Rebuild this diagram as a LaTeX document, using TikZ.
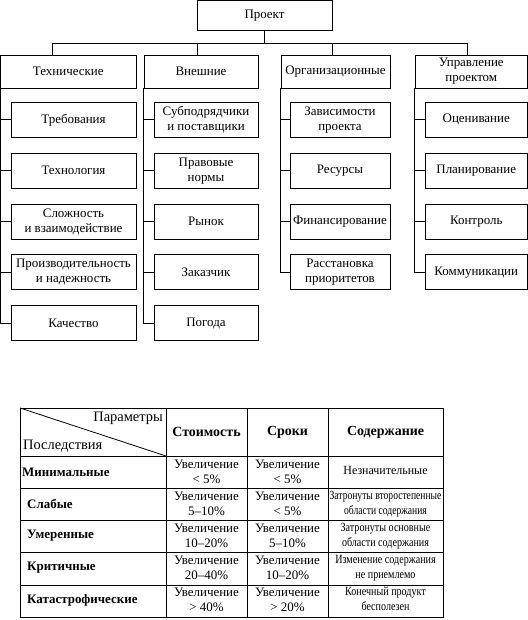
\documentclass[tikz,border=0pt]{standalone}
\usepackage{fontspec}
\setmainfont{Liberation Serif}
\usepackage{graphicx}
\usetikzlibrary{positioning}

% узкий текст в столбце "Содержание"
\newcommand{\narrowtxt}[2]{\scalebox{#1}[1]{\begin{tabular}{@{}c@{}}#2\end{tabular}}}

\tikzset{
  blk/.style={draw, line width=0.8bp, align=center, inner sep=1bp,
    font=\fontsize{13}{15}\selectfont},
  grp/.style={blk, minimum height=33bp},
  kid/.style={blk, minimum height=35bp, anchor=north},
  tk/.style={kid, minimum width=125bp},
  ek/.style={kid, minimum width=104bp},
  ok/.style={kid, minimum width=100bp},
  mk/.style={kid, minimum width=102.5bp},
  link/.style={line width=0.8bp},
  tbl/.style={line width=0.8bp},
  cell/.style={align=center, inner sep=0pt, font=\fontsize{13}{15}\selectfont},
  wide/.style={inner sep=0pt, font=\fontsize{12.5}{15}\selectfont},
  hdr/.style={cell, font=\fontsize{14}{15}\selectfont\bfseries},
  corner/.style={inner sep=0pt, font=\fontsize{14.5}{15}\selectfont},
  rowlbl/.style={anchor=west, inner sep=0pt, font=\fontsize{13}{15}\selectfont\bfseries}
}

\begin{document}
\begin{tikzpicture}[x=1bp, y=-1bp, node distance=15bp]
  \useasboundingbox (0,0) rectangle (528,620);

  % корень
  \node[blk, minimum width=135bp, minimum height=30bp] (proj) at (264.5,15.5) {Проект};

  % группы рисков
  \node[grp, minimum width=135.5bp] (tech) at (68.25,71.5) {Технические};
  \node[grp, minimum width=114bp] (ext) at (201,71.5) {Внешние};
  \node[grp, minimum width=109bp] (org) at (335.5,71.5) {Организационные};
  \node[grp, minimum width=112.5bp] (mgmt) at (471.25,71.5) {Управление\\проектом};

  % шина
  \coordinate (b1) at (52,43);
  \coordinate (b2) at (197,43);
  \coordinate (b3) at (332,43);
  \coordinate (b4) at (467,43);
  \draw[link] (proj.south) -- (proj.south |- b1);
  \draw[link] (b1) -- (b4);
  \foreach \b/\g in {b1/tech, b2/ext, b3/org, b4/mgmt}
    \draw[link] (\b) -- (\b |- \g.north);

  % технические
  \node[tk] (t1) at (73.5,102) {Требования};
  \node[tk, below=of t1] (t2) {Технология};
  \node[tk, below=of t2] (t3) {Сложность\\и взаимодействие};
  \node[tk, below=of t3] (t4) {Производительность\\и надежность};
  \node[tk, below=of t4] (t5) {Качество};

  % внешние
  \node[ek] (e1) at (206,102) {Субподрядчики\\и поставщики};
  \node[ek, below=of e1] (e2) {Правовые\\нормы};
  \node[ek, below=of e2] (e3) {Рынок};
  \node[ek, below=of e3] (e4) {Заказчик};
  \node[ek, below=of e4] (e5) {Погода};

  % организационные
  \node[ok] (o1) at (340,102) {Зависимости\\проекта};
  \node[ok, below=of o1] (o2) {Ресурсы};
  \node[ok, below=of o2] (o3) {Финансирование};
  \node[ok, below=of o3] (o4) {Расстановка\\приоритетов};

  % управление проектом
  \node[mk] (m1) at (476.25,102) {Оценивание};
  \node[mk, below=of m1] (m2) {Планирование};
  \node[mk, below=of m2] (m3) {Контроль};
  \node[mk, below=of m3] (m4) {Коммуникации};

  % стволы
  \draw[link] (tech.south west) |- (t5.west);
  \draw[link] (ext.south west) |- (e5.west);
  \draw[link] (org.south west) |- (o4.west);
  \draw[link] (mgmt.south west) |- (m4.west);
  \foreach \g/\k in {tech/t1, tech/t2, tech/t3, tech/t4,
                     ext/e1, ext/e2, ext/e3, ext/e4,
                     org/o1, org/o2, org/o3,
                     mgmt/m1, mgmt/m2, mgmt/m3}
    \draw[link] (\g.south west |- \k.west) -- (\k.west);

  % таблица
  \draw[tbl] (20,408) rectangle (443,617);
  \foreach \x in {166,247,328}
    \draw[tbl] (\x,408) -- (\x,617);
  \foreach \y in {456,488,520,552,585}
    \draw[tbl] (20,\y) -- (443,\y);
  \draw[tbl] (20,408) -- (166,456);

  \node[corner, anchor=north east] (par) at (163,412) {Параметры};
  \node[corner, anchor=south west] (posl) at (23,452) {Последствия};
  \node[hdr] (h1) at (206.5,432) {Стоимость};
  \node[hdr] (h2) at (287.5,432) {Сроки};
  \node[hdr] (h3) at (385.5,432) {Содержание};

  \foreach \lbl/\lx/\ca/\cb/\sc/\cc [count=\i] in {
    Минимальные/22/{Увеличение\\< 5\%}/{Увеличение\\< 5\%}/0.96/{Незначительные},
    Слабые/27/{Увеличение\\5–10\%}/{Увеличение\\< 5\%}/0.77/{Затронуты второстепенные\\области содержания},
    Умеренные/27/{Увеличение\\10–20\%}/{Увеличение\\5–10\%}/0.81/{Затронуты основные\\области содержания},
    Критичные/27/{Увеличение\\20–40\%}/{Увеличение\\10–20\%}/0.81/{Изменение содержания\\не приемлемо},
    Катастрофические/27/{Увеличение\\> 40\%}/{Увеличение\\> 20\%}/0.81/{Конечный продукт\\бесполезен}} {
    \pgfmathsetmacro\yy{456+32*\i-16}
    \node[rowlbl] (r\i) at (\lx,\yy) {\lbl};
    \node[cell] (ca\i) at (206.5,\yy) {\ca};
    \node[cell] (cb\i) at (287.5,\yy) {\cb};
    \node[wide] (cc\i) at (385.5,\yy) {\narrowtxt{\sc}{\cc}};
  }
\end{tikzpicture}
\end{document}
